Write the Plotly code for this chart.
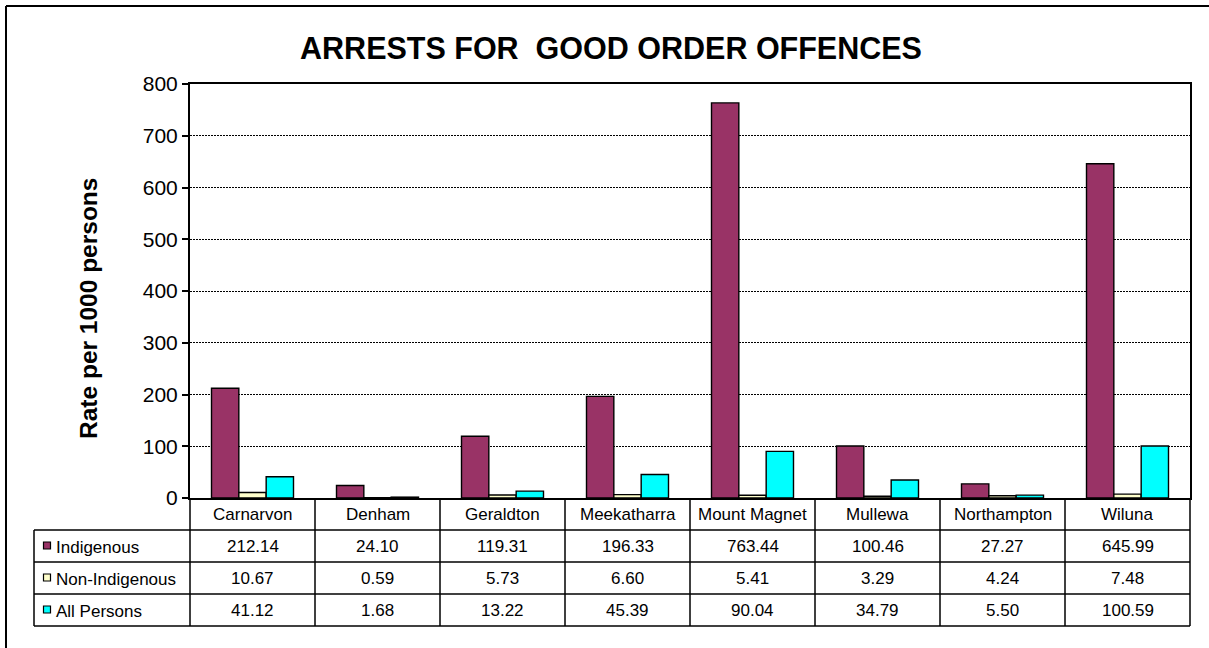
import plotly.graph_objects as go

# ---------------- data ----------------
categories = ["Carnarvon", "Denham", "Geraldton", "Meekatharra",
              "Mount Magnet", "Mullewa", "Northampton", "Wiluna"]
indigenous = [212.14, 24.10, 119.31, 196.33, 763.44, 100.46, 27.27, 645.99]
non_indigenous = [10.67, 0.59, 5.73, 6.60, 5.41, 3.29, 4.24, 7.48]
all_persons = [41.12, 1.68, 13.22, 45.39, 90.04, 34.79, 5.50, 100.59]
series_names = ["Indigenous", "Non-Indigenous", "All Persons"]
y_ticks = [0, 100, 200, 300, 400, 500, 600, 700, 800]

title_text = "ARRESTS FOR\u00a0 GOOD ORDER OFFENCES"
y_title = "Rate per 1000 persons"

# ---------------- style ----------------
colors = ["#993366", "#FFFFCC", "#00FFFF"]
FONT = "Arial, 'Liberation Sans', sans-serif"
W, H = 1209, 648
L, R, T, B = 190, 1190, 84, 498          # plot area in pixels
PW, PH = R - L, B - T


def px_x(px):
    return (px - L) / PW


def px_y(py):
    return (B - py) / PH


series = [indigenous, non_indigenous, all_persons]

fig = go.Figure()
for name, vals, col in zip(series_names, series, colors):
    fig.add_trace(go.Bar(
        x=categories, y=vals, name=name,
        marker=dict(color=col, line=dict(color="black", width=1.4)),
        showlegend=False,
    ))

shapes = []
annotations = []

# outer chart frame (left + top visible)
shapes.append(dict(type="line", xref="paper", yref="paper",
                   x0=px_x(6), x1=px_x(6), y0=px_y(6), y1=px_y(660),
                   line=dict(color="black", width=2)))
shapes.append(dict(type="line", xref="paper", yref="paper",
                   x0=px_x(6), x1=px_x(1220), y0=px_y(6), y1=px_y(6),
                   line=dict(color="black", width=2)))

# data table
row_h = 32
rows_top = B
n_rows = 1 + len(series_names)
table_left = 34
lw = 1.5
# horizontal lines
for i in range(1, n_rows + 1):
    yy = rows_top + i * row_h
    shapes.append(dict(type="line", xref="paper", yref="paper",
                       x0=px_x(table_left), x1=px_x(R), y0=px_y(yy), y1=px_y(yy),
                       line=dict(color="black", width=lw)))
# vertical lines for category columns
ncat = len(categories)
for j in range(ncat + 1):
    xx = L + j * PW / ncat
    shapes.append(dict(type="line", xref="paper", yref="paper",
                       x0=px_x(xx), x1=px_x(xx), y0=px_y(rows_top), y1=px_y(rows_top + n_rows * row_h),
                       line=dict(color="black", width=lw)))
# left edge of label column
shapes.append(dict(type="line", xref="paper", yref="paper",
                   x0=px_x(table_left), x1=px_x(table_left),
                   y0=px_y(rows_top + row_h), y1=px_y(rows_top + n_rows * row_h),
                   line=dict(color="black", width=lw)))

# category header texts
for c in categories:
    annotations.append(dict(x=c, xref="x", y=px_y(rows_top + row_h / 2), yref="paper",
                            text=c, showarrow=False, xanchor="center", yanchor="middle",
                            font=dict(family=FONT, size=17, color="black")))

# row labels, legend keys and values
for i, (name, vals, col) in enumerate(zip(series_names, series, colors)):
    cy = rows_top + row_h * (i + 1) + row_h / 2
    shapes.append(dict(type="rect", xref="paper", yref="paper",
                       x0=px_x(43.5), x1=px_x(50.5), y0=px_y(cy - 4), y1=px_y(cy + 3),
                       fillcolor=col, line=dict(color="black", width=1.2)))
    annotations.append(dict(x=px_x(54), xref="paper", y=px_y(cy + 1), yref="paper",
                            text=name, showarrow=False, xanchor="left", yanchor="middle",
                            font=dict(family=FONT, size=17, color="black")))
    for c, v in zip(categories, vals):
        annotations.append(dict(x=c, xref="x", y=px_y(cy), yref="paper",
                                text=f"{v:.2f}", showarrow=False,
                                xanchor="center", yanchor="middle",
                                font=dict(family=FONT, size=17, color="black")))

# y-axis title
annotations.append(dict(x=px_x(88), xref="paper", y=px_y(309), yref="paper",
                        text=f"<b>{y_title}</b>", showarrow=False, textangle=-90,
                        xanchor="center", yanchor="middle",
                        font=dict(family=FONT, size=24.5, color="black")))

fig.update_layout(
    width=W, height=H,
    margin=dict(l=L, r=W - R, t=T, b=H - B, pad=0),
    paper_bgcolor="white", plot_bgcolor="white",
    barmode="group", bargap=0.344, bargroupgap=0.0,
    title=dict(text=f"<b>{title_text}</b>", x=611 / W, xref="container",
               xanchor="center", y=1 - 48 / H, yref="container", yanchor="middle",
               font=dict(family=FONT, size=30.5, color="black")),
    xaxis=dict(showticklabels=False, showgrid=False, ticks="",
               showline=True, linecolor="black", linewidth=2, mirror=True,
               zeroline=False),
    yaxis=dict(range=[0, 800], tickvals=y_ticks, ticks="outside", ticklen=6,
               tickcolor="black", tickwidth=1.5,
               tickfont=dict(family=FONT, size=21, color="black"),
               showgrid=True, gridcolor="black", gridwidth=1, griddash="2px,1px",
               showline=True, linecolor="black", linewidth=2, mirror=True,
               zeroline=False),
    shapes=shapes,
    annotations=annotations,
)

fig.write_html(
    "out.html",
    config={"displayModeBar": False},
    post_script="document.body.style.margin='0';document.body.style.overflow='hidden';",
)
